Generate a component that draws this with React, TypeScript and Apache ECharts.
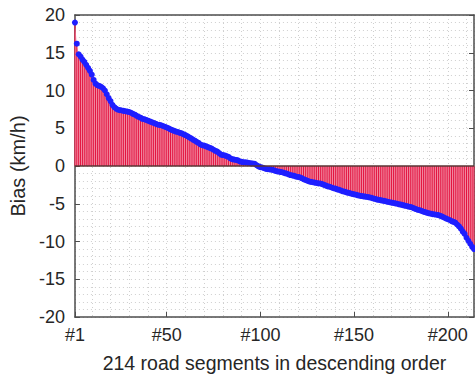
import React, { useEffect, useRef } from "react";
import * as echarts from "echarts";

// Road segment indices (1..214) shown on the x-axis
const SEGMENT_COUNT = 214;
const SEGMENT_IDS: number[] = Array.from({ length: SEGMENT_COUNT }, (_, k) => k + 1);

// Bias (km/h) per road segment, in descending order
const BIAS: number[] = [
  19.0, 16.2, 14.8, 14.5, 14.1, 13.8, 13.4, 13.0, 12.6, 12.1,
  11.4, 10.9, 10.7, 10.6, 10.5, 10.3, 10.0, 9.5, 9.0, 8.6,
  8.1, 7.8, 7.6, 7.45, 7.4, 7.35, 7.3, 7.25, 7.2, 7.15,
  7.05, 6.9, 6.8, 6.65, 6.5, 6.4, 6.25, 6.2, 6.1, 6.0,
  5.9, 5.8, 5.7, 5.6, 5.5, 5.45, 5.4, 5.3, 5.2, 5.1,
  5.0, 4.85, 4.75, 4.65, 4.55, 4.5, 4.4, 4.33, 4.2, 4.1,
  3.95, 3.8, 3.67, 3.5, 3.35, 3.2, 3.05, 2.85, 2.75, 2.7,
  2.6, 2.5, 2.4, 2.3, 2.15, 2.0, 1.9, 1.7, 1.5, 1.45,
  1.4, 1.3, 1.2, 1.0, 0.9, 0.85, 0.8, 0.75, 0.6, 0.55,
  0.5, 0.48, 0.45, 0.4, 0.35, 0.33, 0.3, 0.1, -0.05, -0.15,
  -0.2, -0.3, -0.38, -0.42, -0.45, -0.5, -0.55, -0.65, -0.72, -0.75,
  -0.8, -0.85, -0.95, -1.0, -1.1, -1.2, -1.25, -1.3, -1.4, -1.45,
  -1.5, -1.6, -1.75, -1.85, -1.95, -2.05, -2.1, -2.15, -2.2, -2.25,
  -2.3, -2.32, -2.4, -2.5, -2.6, -2.7, -2.75, -2.85, -2.95, -3.0,
  -3.1, -3.15, -3.25, -3.35, -3.4, -3.5, -3.55, -3.62, -3.7, -3.75,
  -3.8, -3.88, -3.93, -3.98, -4.02, -4.06, -4.1, -4.15, -4.2, -4.28,
  -4.35, -4.42, -4.48, -4.52, -4.58, -4.62, -4.68, -4.74, -4.8, -4.85,
  -4.9, -4.95, -5.0, -5.07, -5.12, -5.18, -5.25, -5.3, -5.37, -5.42,
  -5.5, -5.6, -5.7, -5.8, -5.85, -5.95, -6.05, -6.12, -6.2, -6.27,
  -6.32, -6.38, -6.42, -6.46, -6.5, -6.6, -6.7, -6.82, -6.95, -7.05,
  -7.15, -7.3, -7.4, -7.5, -7.75, -8.0, -8.3, -8.7, -9.0, -9.5,
  -9.9, -10.3, -10.7, -11.0,
];

const X_TICKS: number[] = [1, 50, 100, 150, 200];
const X_GRID_STEP = 10;
const Y_MIN = -20;
const Y_MAX = 20;
const Y_STEP = 5;

const X_NAME = "214 road segments in descending order";
const Y_NAME = "Bias (km/h)";

const FONT = "'Liberation Sans', Arial, Helvetica, sans-serif";
const TEXT = "#262626";
const AXIS = "#4d4d4d";
const GRID_LINE = { color: "#cfcfcf", type: [1, 3] as any, width: 1 };

export default function App() {
  const ref = useRef<HTMLDivElement>(null);

  useEffect(() => {
    if (!ref.current) return;
    const chart = echarts.init(ref.current, undefined, { renderer: "svg" });
    const pts = SEGMENT_IDS.map((x, k) => [x, BIAS[k]]);

    chart.setOption({
      animation: false,
      grid: { left: 72, right: 1, top: 15, bottom: 64 },
      xAxis: [
        {
          type: "value",
          position: "bottom",
          min: 1,
          max: SEGMENT_COUNT,
          axisLine: { show: true, onZero: false, lineStyle: { color: AXIS, width: 1.5 } },
          axisTick: { show: true, inside: true, length: 5, customValues: X_TICKS, lineStyle: { color: AXIS } },
          axisLabel: {
            customValues: X_TICKS,
            formatter: (v: number) => "#" + v,
            color: TEXT,
            fontSize: 18,
            fontFamily: FONT,
            margin: 9,
          },
          splitLine: { show: false },
          name: X_NAME,
          nameLocation: "middle",
          nameGap: 36,
          nameTextStyle: { color: TEXT, fontSize: 19.5, fontFamily: FONT },
        },
        {
          type: "value",
          position: "top",
          min: 1,
          max: SEGMENT_COUNT,
          minInterval: X_GRID_STEP,
          maxInterval: X_GRID_STEP,
          axisLine: { show: true, onZero: false, lineStyle: { color: AXIS, width: 1.5 } },
          axisTick: { show: false },
          axisLabel: { show: false },
          splitLine: { show: true, lineStyle: GRID_LINE },
        },
      ],
      yAxis: [
        {
          type: "value",
          position: "left",
          min: Y_MIN,
          max: Y_MAX,
          interval: Y_STEP,
          axisLine: { show: true, onZero: false, lineStyle: { color: AXIS, width: 1.5 } },
          axisTick: { show: true, inside: true, length: 5, lineStyle: { color: AXIS } },
          axisLabel: { color: TEXT, fontSize: 18, fontFamily: FONT, margin: 10 },
          splitLine: { show: true, lineStyle: GRID_LINE },
          minorTick: { show: false, splitNumber: 5 },
          minorSplitLine: { show: true, lineStyle: GRID_LINE },
          name: Y_NAME,
          nameLocation: "middle",
          nameGap: 36,
          nameRotate: 90,
          nameTextStyle: { color: TEXT, fontSize: 20, fontFamily: FONT },
        },
        {
          type: "value",
          position: "right",
          min: Y_MIN,
          max: Y_MAX,
          interval: Y_STEP,
          axisLine: { show: true, onZero: false, lineStyle: { color: AXIS, width: 1.5 } },
          axisTick: { show: true, inside: true, length: 5, lineStyle: { color: AXIS } },
          axisLabel: { show: false },
          splitLine: { show: false },
        },
      ],
      series: [
        {
          type: "line",
          xAxisIndex: 0,
          yAxisIndex: 0,
          data: pts,
          showSymbol: false,
          symbol: "none",
          lineStyle: { width: 0 },
          areaStyle: { color: "#f29aae", opacity: 1 },
          z: 1,
          silent: true,
        },
        {
          type: "bar",
          xAxisIndex: 0,
          yAxisIndex: 0,
          data: pts,
          barWidth: 0.7,
          itemStyle: { color: "#e3123f" },
          z: 2,
          silent: true,
          markLine: {
            silent: true,
            symbol: "none",
            label: { show: false },
            lineStyle: { color: "#5a3535", width: 1.5, type: "solid" },
            data: [{ yAxis: 0 }],
          },
        },
        {
          type: "scatter",
          xAxisIndex: 0,
          yAxisIndex: 0,
          data: pts,
          symbolSize: 6,
          itemStyle: { color: "#1e1eff", opacity: 1 },
          z: 4,
          silent: true,
        },
      ],
    });

    return () => chart.dispose();
  }, []);

  return (
    <div
      ref={ref}
      style={{ position: "fixed", left: 0, top: 0, width: 475, height: 381, background: "#fff" }}
    />
  );
}
